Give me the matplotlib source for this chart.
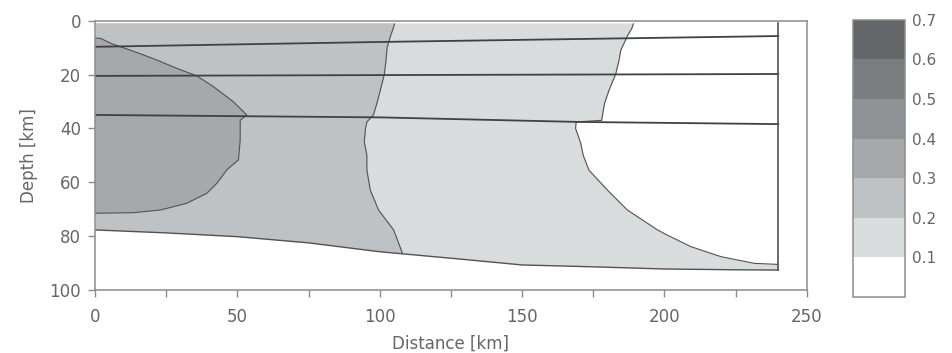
import matplotlib.pyplot as plt
from matplotlib.colors import ListedColormap, BoundaryNorm
from matplotlib.cm import ScalarMappable
from matplotlib.patches import Polygon
from matplotlib.ticker import MultipleLocator

# bottom of the model section
base_x = [0, 25, 50, 75, 100, 125, 150, 175, 200, 225, 240]
base_depth = [77.7, 78.8, 80.2, 82.5, 85.8, 88.2, 90.7, 91.4, 92.2, 92.5, 92.6]
model_top = 1.0
model_right = 240

# layer interfaces
layer_x = [0, 100, 170, 240]
layer1 = [9.7, 7.9, 6.8, 5.7]
layer2 = [20.5, 20.2, 20.0, 19.8]
layer3 = [35.0, 35.9, 37.6, 38.4]

# 0.1 isoline
c1_depth = [0, 3, 5.7, 8, 10.9, 15, 19.8, 25.7, 30.6, 35.4, 37.0, 37.6, 40, 45.4, 50, 55.5,
            62.9, 70.3, 77.7, 79.6, 83.9, 87.6, 90.1, 90.5, 91, 100]
c1_x = [189.5, 188.5, 187, 186, 184.7, 184, 182.9, 180.6, 179, 178.2, 178, 169, 168.8, 170.6,
        171.5, 173.5, 180, 187, 197.6, 201, 209.3, 219.8, 231.5, 240, 245, 245]

# 0.2 isoline
c2_depth = [0, 2, 5.7, 10, 15, 20, 25, 30, 35, 37.6, 40, 45, 50, 55.5, 62.9, 70.3, 77.7, 85.8, 100]
c2_x = [105.5, 105, 103.8, 102.6, 102.2, 101.6, 100.4, 99.2, 97.8, 95.5, 95, 94.6, 95.5, 95.5,
        96.7, 99.6, 104.9, 107.8, 110]

# 0.3 isoline (closed against the left edge)
c3_x = [0, 1.8, 6, 12.3, 17, 21.7, 28.7, 35.8, 41.6, 48.6, 53.3, 51, 51, 50.4, 46.3, 42.8, 39.3,
        32.2, 23, 13.5, 0]
c3_depth = [6.5, 6.5, 8.6, 10.9, 12.7, 14.6, 17.7, 20.5, 24.5, 30.1, 35.0, 37, 44.3, 51.7, 55.4,
            60.4, 64.1, 67.8, 70.3, 71.3, 71.5]

levels = [0, 0.1, 0.2, 0.3, 0.4, 0.5, 0.6, 0.7]
shades = ['#ffffff', '#d8dcdc', '#bfc2c4', '#a6a8ab', '#909295', '#7a7c7f', '#636569']

text_col = '#666666'
frame_col = '#8c8c8c'
line_col = '#505254'

plt.rcParams['font.family'] = ['DejaVu Sans']

fig = plt.figure(figsize=(9.52, 3.53), dpi=100)
ax = fig.add_axes([0.0998, 0.1785, 0.7476, 0.7629])

outline = [(x, d) for x, d in zip(base_x, base_depth)] + [(model_right, model_top), (0, model_top)]
section = Polygon(outline, closed=True, facecolor='white', edgecolor='none')
ax.add_patch(section)

f1 = ax.fill_betweenx(c1_depth, 0, c1_x, color=shades[1], lw=0)
f1.set_clip_path(section)
f2 = ax.fill_betweenx(c2_depth, 0, c2_x, color=shades[2], lw=0)
f2.set_clip_path(section)
f3 = ax.fill(c3_x, c3_depth, color=shades[3], lw=0)[0]
f3.set_clip_path(section)

for xs, ds in [(c1_x, c1_depth), (c2_x, c2_depth), (c3_x, c3_depth)]:
    ln, = ax.plot(xs, ds, color=line_col, lw=0.8)
    ln.set_clip_path(section)

for lay in [layer1, layer2, layer3]:
    ax.plot(layer_x, lay, color='#3f4143', lw=1.3)

ax.plot(base_x, base_depth, color=line_col, lw=1.0)
ax.plot([model_right, model_right], [model_top, base_depth[-1]], color=line_col, lw=1.2)

ax.set_xlim(0, 250)
ax.set_ylim(100, 0)
ax.xaxis.set_major_locator(MultipleLocator(50))
ax.xaxis.set_minor_locator(MultipleLocator(25))
ax.yaxis.set_major_locator(MultipleLocator(20))
for s in ax.spines.values():
    s.set_color(frame_col)
    s.set_linewidth(1.1)
ax.tick_params(which='both', direction='out', length=5, width=1, color=frame_col,
               labelcolor=text_col, labelsize=12)
ax.tick_params(axis='x', which='both', pad=8)
ax.tick_params(axis='y', pad=5)
ax.set_xlabel('Distance [km]', color=text_col, fontsize=12, labelpad=6)
ax.set_ylabel('Depth [km]', color=text_col, fontsize=12, labelpad=8)

# colour key
cax = fig.add_axes([0.896, 0.1586, 0.0546, 0.785])
cmap = ListedColormap(shades)
norm = BoundaryNorm(levels, cmap.N)
cb = fig.colorbar(ScalarMappable(norm=norm, cmap=cmap), cax=cax, ticks=levels[1:])
cb.minorticks_off()
cb.ax.set_yticklabels(['0.1', '0.2', '0.3', '0.4', '0.5', '0.6', '0.7'])
cb.ax.tick_params(length=0, labelcolor=text_col, labelsize=11, pad=5)
cb.outline.set_edgecolor(frame_col)
cb.outline.set_linewidth(1.1)

fig.savefig('out.png', dpi=100)
